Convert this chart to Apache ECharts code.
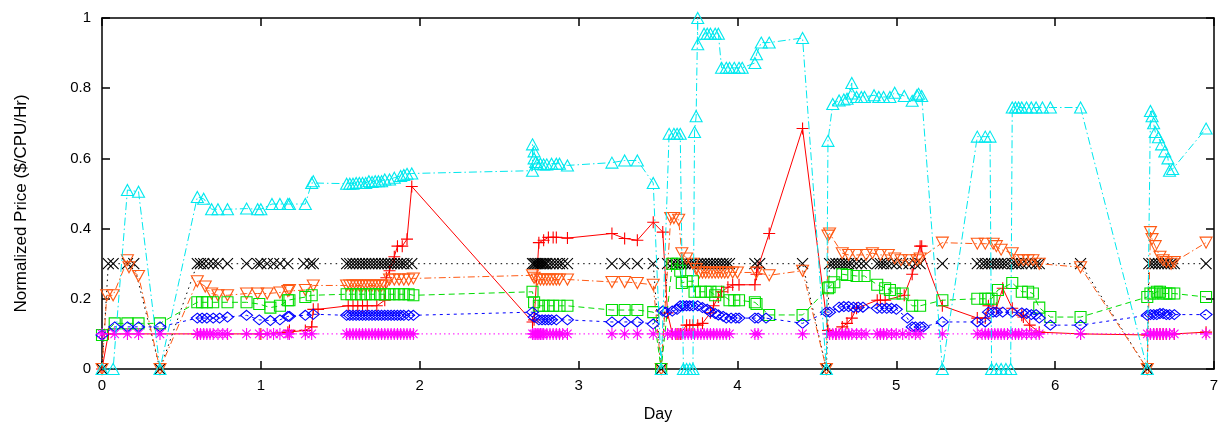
<!DOCTYPE html>
<html>
<head>
<meta charset="utf-8">
<script src="https://cdn.jsdelivr.net/npm/echarts@6/dist/echarts.min.js"></script>
<style>
html,body{margin:0;padding:0;background:#fff;}
#chart{width:1228px;height:436px;}
</style>
</head>
<body>
<div id="chart"></div>
<script>
// ---- tick labels / axis ----
const xTicks = [0, 1, 2, 3, 4, 5, 6, 7];
const yTicks = [0, 0.2, 0.4, 0.6, 0.8, 1];
const xName = 'Day';
const yName = 'Normalized Price ($/CPU/Hr)';

// ---- series data: [day, price] ----
const redPlus = [[0,0],[0.04,0.1],[0.6,0.1],[0.79,0.1],[1.0,0.1],[1.17,0.105],[1.18,0.11],[1.28,0.11],[1.32,0.12],[1.33,0.17],[1.36,0.17],[1.55,0.18],[1.58,0.18],[1.61,0.18],[1.64,0.18],[1.67,0.18],[1.73,0.18],[1.78,0.196],[1.79,0.26],[1.81,0.28],[1.84,0.32],[1.86,0.35],[1.89,0.35],[1.92,0.37],[1.95,0.52],[2.71,0.134],[2.72,0.14],[2.75,0.36],[2.78,0.367],[2.81,0.375],[2.84,0.375],[2.86,0.375],[2.93,0.373],[3.21,0.386],[3.29,0.372],[3.37,0.367],[3.47,0.418],[3.53,0.39],[3.56,0.16],[3.59,0.10],[3.62,0.10],[3.64,0.10],[3.68,0.125],[3.70,0.125],[3.72,0.125],[3.75,0.125],[3.78,0.13],[3.83,0.16],[3.85,0.18],[3.88,0.205],[3.90,0.22],[3.94,0.233],[3.97,0.24],[4.01,0.24],[4.11,0.24],[4.12,0.27],[4.13,0.29],[4.20,0.386],[4.41,0.685],[4.57,0.11],[4.58,0.10],[4.62,0.10],[4.66,0.12],[4.69,0.13],[4.72,0.145],[4.75,0.173],[4.88,0.196],[4.90,0.196],[4.93,0.196],[5.05,0.21],[5.10,0.27],[5.15,0.35],[5.16,0.35],[5.29,0.18],[5.51,0.145],[5.56,0.145],[5.58,0.18],[5.63,0.173],[5.67,0.23],[5.73,0.173],[5.79,0.153],[5.80,0.148],[5.84,0.125],[5.90,0.105],[6.16,0.1],[6.58,0.097],[6.60,0.1],[6.62,0.1],[6.64,0.1],[6.66,0.1],[6.68,0.1],[6.70,0.1],[6.72,0.1],[6.75,0.1],[6.95,0.105]];

const blackCross = [[0,0],[0.04,0.3],[0.07,0.3],[0.16,0.3],[0.2,0.3],[0.365,0],[0.6,0.3],[0.62,0.3],[0.64,0.3],[0.67,0.3],[0.7,0.3],[0.73,0.3],[0.79,0.3],[0.91,0.3],[0.98,0.3],[1.0,0.3],[1.04,0.3],[1.08,0.3],[1.12,0.3],[1.17,0.3],[1.27,0.3],[1.31,0.3],[1.33,0.3],[1.54,0.3],[1.56,0.3],[1.58,0.3],[1.60,0.3],[1.62,0.3],[1.64,0.3],[1.66,0.3],[1.68,0.3],[1.70,0.3],[1.72,0.3],[1.74,0.3],[1.76,0.3],[1.78,0.3],[1.80,0.3],[1.82,0.3],[1.84,0.3],[1.86,0.3],[1.88,0.3],[1.90,0.3],[1.92,0.3],[1.95,0.3],[2.71,0.3],[2.72,0.3],[2.73,0.3],[2.74,0.3],[2.75,0.3],[2.76,0.3],[2.77,0.3],[2.78,0.3],[2.79,0.3],[2.80,0.3],[2.82,0.3],[2.84,0.3],[2.86,0.3],[2.88,0.3],[2.90,0.3],[2.93,0.3],[3.21,0.3],[3.29,0.3],[3.37,0.3],[3.47,0.3],[3.52,0],[3.56,0.3],[3.59,0.3],[3.61,0.3],[3.63,0.3],[3.65,0.3],[3.67,0.3],[3.69,0.3],[3.71,0.3],[3.73,0.3],[3.75,0.3],[3.77,0.3],[3.79,0.3],[3.81,0.3],[3.83,0.3],[3.85,0.3],[3.87,0.3],[3.89,0.3],[3.91,0.3],[3.93,0.3],[3.95,0.3],[4.11,0.3],[4.14,0.3],[4.41,0.3],[4.56,0],[4.58,0.3],[4.60,0.3],[4.62,0.3],[4.64,0.3],[4.66,0.3],[4.68,0.3],[4.70,0.3],[4.72,0.3],[4.75,0.3],[4.78,0.3],[4.81,0.3],[4.88,0.3],[4.90,0.3],[4.92,0.3],[4.94,0.3],[4.97,0.3],[5.00,0.3],[5.04,0.3],[5.08,0.3],[5.12,0.3],[5.15,0.3],[5.29,0.3],[5.51,0.3],[5.54,0.3],[5.56,0.3],[5.58,0.3],[5.60,0.3],[5.62,0.3],[5.64,0.3],[5.66,0.3],[5.68,0.3],[5.70,0.3],[5.73,0.3],[5.75,0.3],[5.77,0.3],[5.79,0.3],[5.82,0.3],[5.85,0.3],[5.88,0.3],[5.90,0.3],[6.16,0.3],[6.58,0],[6.59,0.3],[6.61,0.3],[6.63,0.3],[6.65,0.3],[6.67,0.3],[6.69,0.3],[6.71,0.3],[6.73,0.3],[6.75,0.3],[6.95,0.3]];

const orangeTriDown = [[0,0],[0.03,0.21],[0.07,0.21],[0.16,0.31],[0.17,0.29],[0.23,0.265],[0.365,0],[0.6,0.25],[0.65,0.235],[0.69,0.215],[0.73,0.21],[0.79,0.21],[0.91,0.215],[0.98,0.215],[1.04,0.215],[1.12,0.218],[1.17,0.222],[1.18,0.225],[1.28,0.225],[1.33,0.238],[1.54,0.238],[1.56,0.238],[1.58,0.238],[1.60,0.238],[1.62,0.238],[1.64,0.238],[1.66,0.238],[1.68,0.238],[1.70,0.238],[1.72,0.238],[1.74,0.238],[1.76,0.238],[1.78,0.238],[1.81,0.255],[1.84,0.255],[1.87,0.255],[1.90,0.255],[1.93,0.255],[1.96,0.258],[2.71,0.267],[2.72,0.26],[2.74,0.255],[2.76,0.255],[2.78,0.255],[2.80,0.255],[2.82,0.255],[2.84,0.255],[2.86,0.255],[2.88,0.255],[2.93,0.255],[3.21,0.248],[3.29,0.248],[3.37,0.245],[3.47,0.24],[3.52,0],[3.58,0.43],[3.60,0.43],[3.63,0.425],[3.65,0.33],[3.68,0.315],[3.72,0.30],[3.74,0.285],[3.76,0.275],[3.78,0.275],[3.80,0.275],[3.82,0.275],[3.84,0.275],[3.86,0.275],[3.88,0.275],[3.90,0.275],[3.92,0.275],[3.94,0.275],[3.97,0.275],[4.0,0.275],[4.12,0.275],[4.2,0.267],[4.41,0.28],[4.56,0],[4.57,0.38],[4.58,0.386],[4.66,0.33],[4.70,0.325],[4.75,0.325],[4.81,0.325],[4.85,0.33],[4.90,0.325],[4.95,0.325],[4.99,0.315],[5.03,0.31],[5.08,0.31],[5.13,0.31],[5.15,0.315],[5.29,0.36],[5.51,0.357],[5.56,0.357],[5.61,0.357],[5.63,0.35],[5.66,0.34],[5.73,0.33],[5.77,0.31],[5.80,0.31],[5.83,0.31],[5.86,0.31],[5.90,0.3],[6.16,0.29],[6.58,0],[6.60,0.39],[6.61,0.37],[6.63,0.35],[6.66,0.32],[6.68,0.31],[6.70,0.305],[6.73,0.30],[6.75,0.305],[6.95,0.36]];

const greenSquare = [[0,0.097],[0.08,0.13],[0.16,0.13],[0.23,0.13],[0.365,0.13],[0.6,0.19],[0.63,0.19],[0.66,0.19],[0.70,0.19],[0.79,0.19],[0.91,0.19],[0.99,0.185],[1.06,0.175],[1.12,0.18],[1.17,0.196],[1.18,0.196],[1.28,0.205],[1.32,0.21],[1.54,0.213],[1.57,0.213],[1.60,0.213],[1.63,0.213],[1.66,0.213],[1.69,0.213],[1.72,0.213],[1.75,0.213],[1.78,0.213],[1.81,0.213],[1.84,0.213],[1.87,0.213],[1.90,0.213],[1.93,0.213],[1.96,0.21],[2.71,0.22],[2.72,0.19],[2.75,0.18],[2.78,0.18],[2.81,0.18],[2.84,0.18],[2.88,0.18],[2.93,0.18],[3.21,0.168],[3.29,0.168],[3.37,0.168],[3.47,0.162],[3.52,0],[3.59,0.30],[3.62,0.30],[3.64,0.28],[3.65,0.245],[3.68,0.25],[3.72,0.25],[3.73,0.22],[3.77,0.22],[3.80,0.22],[3.83,0.22],[3.86,0.21],[3.88,0.22],[3.95,0.196],[3.98,0.196],[4.01,0.196],[4.11,0.19],[4.12,0.185],[4.2,0.154],[4.41,0.154],[4.57,0.23],[4.58,0.233],[4.61,0.247],[4.66,0.27],[4.69,0.268],[4.75,0.265],[4.80,0.265],[4.88,0.24],[4.93,0.23],[4.96,0.225],[4.99,0.215],[5.04,0.215],[5.10,0.18],[5.15,0.18],[5.29,0.196],[5.51,0.2],[5.56,0.2],[5.58,0.2],[5.60,0.2],[5.64,0.225],[5.73,0.245],[5.79,0.22],[5.83,0.22],[5.86,0.215],[5.90,0.175],[5.97,0.148],[6.16,0.148],[6.58,0.205],[6.60,0.215],[6.62,0.215],[6.64,0.22],[6.66,0.22],[6.68,0.215],[6.70,0.215],[6.72,0.215],[6.75,0.215],[6.95,0.205]];

const blueDiamond = [[0,0.097],[0.08,0.12],[0.16,0.12],[0.23,0.12],[0.365,0.12],[0.6,0.145],[0.63,0.145],[0.66,0.145],[0.70,0.145],[0.74,0.145],[0.79,0.148],[0.91,0.153],[0.99,0.14],[1.06,0.138],[1.12,0.14],[1.17,0.15],[1.18,0.15],[1.28,0.153],[1.33,0.156],[1.54,0.153],[1.56,0.153],[1.58,0.153],[1.60,0.153],[1.62,0.153],[1.64,0.153],[1.66,0.153],[1.68,0.153],[1.70,0.153],[1.72,0.153],[1.74,0.153],[1.76,0.153],[1.78,0.153],[1.80,0.153],[1.82,0.153],[1.84,0.153],[1.86,0.153],[1.88,0.153],[1.90,0.153],[1.93,0.153],[1.96,0.153],[2.71,0.162],[2.72,0.148],[2.75,0.14],[2.77,0.14],[2.79,0.14],[2.81,0.14],[2.83,0.14],[2.86,0.14],[2.93,0.14],[3.21,0.134],[3.29,0.134],[3.37,0.134],[3.47,0.128],[3.53,0.165],[3.55,0.162],[3.59,0.165],[3.62,0.17],[3.64,0.18],[3.66,0.18],[3.68,0.18],[3.70,0.18],[3.72,0.18],[3.75,0.18],[3.78,0.175],[3.81,0.17],[3.83,0.162],[3.86,0.158],[3.88,0.154],[3.91,0.15],[3.93,0.145],[3.96,0.145],[3.99,0.145],[4.01,0.145],[4.11,0.145],[4.13,0.145],[4.18,0.145],[4.41,0.13],[4.56,0.162],[4.58,0.162],[4.64,0.176],[4.67,0.178],[4.70,0.178],[4.73,0.176],[4.76,0.176],[4.79,0.176],[4.88,0.173],[4.91,0.173],[4.94,0.173],[4.97,0.173],[5.0,0.17],[5.07,0.145],[5.10,0.12],[5.12,0.12],[5.15,0.12],[5.17,0.12],[5.29,0.134],[5.51,0.134],[5.56,0.134],[5.58,0.162],[5.61,0.162],[5.63,0.162],[5.67,0.162],[5.73,0.162],[5.79,0.16],[5.82,0.158],[5.85,0.155],[5.88,0.155],[5.90,0.145],[5.97,0.125],[6.16,0.125],[6.58,0.153],[6.60,0.155],[6.62,0.155],[6.64,0.155],[6.66,0.158],[6.68,0.158],[6.70,0.155],[6.72,0.155],[6.75,0.155],[6.95,0.155]];

const magentaStar = [[0,0.1],[0.08,0.1],[0.16,0.1],[0.23,0.1],[0.365,0.1],[0.6,0.1],[0.62,0.1],[0.64,0.1],[0.66,0.1],[0.68,0.1],[0.70,0.1],[0.73,0.1],[0.76,0.1],[0.79,0.1],[0.91,0.1],[0.99,0.1],[1.04,0.1],[1.08,0.1],[1.12,0.1],[1.17,0.1],[1.18,0.1],[1.28,0.1],[1.32,0.1],[1.54,0.1],[1.56,0.1],[1.58,0.1],[1.60,0.1],[1.62,0.1],[1.64,0.1],[1.66,0.1],[1.68,0.1],[1.70,0.1],[1.72,0.1],[1.74,0.1],[1.76,0.1],[1.78,0.1],[1.80,0.1],[1.82,0.1],[1.84,0.1],[1.86,0.1],[1.88,0.1],[1.90,0.1],[1.92,0.1],[1.94,0.1],[1.96,0.1],[2.71,0.1],[2.72,0.1],[2.73,0.1],[2.74,0.1],[2.75,0.1],[2.76,0.1],[2.77,0.1],[2.78,0.1],[2.80,0.1],[2.82,0.1],[2.84,0.1],[2.86,0.1],[2.88,0.1],[2.90,0.1],[2.93,0.1],[3.21,0.1],[3.29,0.1],[3.37,0.1],[3.47,0.1],[3.56,0.1],[3.59,0.1],[3.61,0.1],[3.63,0.1],[3.65,0.1],[3.67,0.1],[3.69,0.1],[3.71,0.1],[3.73,0.1],[3.75,0.1],[3.77,0.1],[3.79,0.1],[3.81,0.1],[3.83,0.1],[3.85,0.1],[3.87,0.1],[3.89,0.1],[3.91,0.1],[3.93,0.1],[3.95,0.1],[4.11,0.1],[4.13,0.1],[4.41,0.1],[4.58,0.1],[4.60,0.1],[4.62,0.1],[4.64,0.1],[4.66,0.1],[4.68,0.1],[4.70,0.1],[4.72,0.1],[4.75,0.1],[4.78,0.1],[4.81,0.1],[4.88,0.1],[4.90,0.1],[4.92,0.1],[4.94,0.1],[4.97,0.1],[5.00,0.1],[5.04,0.1],[5.08,0.1],[5.12,0.1],[5.15,0.1],[5.29,0.1],[5.51,0.1],[5.54,0.1],[5.56,0.1],[5.58,0.1],[5.60,0.1],[5.62,0.1],[5.64,0.1],[5.66,0.1],[5.68,0.1],[5.70,0.1],[5.73,0.1],[5.75,0.1],[5.77,0.1],[5.79,0.1],[5.82,0.1],[5.85,0.1],[5.88,0.1],[5.90,0.1],[6.16,0.1],[6.58,0.1],[6.60,0.1],[6.62,0.1],[6.64,0.1],[6.66,0.1],[6.68,0.1],[6.70,0.1],[6.72,0.1],[6.75,0.1],[6.95,0.1]];

const cyanTriUp = [[0,0],[0.07,0],[0.16,0.51],[0.23,0.505],[0.365,0],[0.6,0.49],[0.64,0.485],[0.69,0.455],[0.73,0.455],[0.79,0.455],[0.91,0.457],[0.98,0.455],[1.0,0.455],[1.07,0.47],[1.12,0.47],[1.17,0.47],[1.18,0.47],[1.28,0.47],[1.32,0.53],[1.33,0.535],[1.54,0.528],[1.56,0.528],[1.58,0.528],[1.60,0.53],[1.62,0.53],[1.64,0.53],[1.66,0.53],[1.68,0.535],[1.70,0.533],[1.72,0.535],[1.74,0.535],[1.76,0.535],[1.78,0.54],[1.81,0.54],[1.84,0.545],[1.88,0.55],[1.90,0.553],[1.92,0.556],[1.95,0.557],[2.71,0.565],[2.71,0.64],[2.72,0.62],[2.72,0.60],[2.73,0.59],[2.74,0.585],[2.76,0.585],[2.78,0.583],[2.80,0.583],[2.83,0.585],[2.86,0.585],[2.88,0.585],[2.93,0.58],[3.21,0.588],[3.29,0.594],[3.37,0.594],[3.47,0.53],[3.52,0],[3.57,0.67],[3.60,0.67],[3.62,0.67],[3.64,0.67],[3.66,0],[3.68,0],[3.70,0],[3.72,0],[3.73,0.675],[3.74,0.72],[3.75,1.0],[3.75,0.925],[3.79,0.955],[3.81,0.955],[3.83,0.955],[3.86,0.955],[3.88,0.955],[3.90,0.858],[3.93,0.858],[3.95,0.858],[3.98,0.858],[4.01,0.858],[4.03,0.858],[4.11,0.872],[4.12,0.897],[4.15,0.93],[4.20,0.93],[4.41,0.943],[4.56,0],[4.57,0.65],[4.60,0.755],[4.64,0.765],[4.67,0.768],[4.69,0.77],[4.72,0.815],[4.72,0.785],[4.75,0.775],[4.78,0.775],[4.80,0.775],[4.86,0.78],[4.89,0.775],[4.92,0.775],[4.96,0.775],[4.99,0.787],[5.05,0.778],[5.10,0.764],[5.13,0.78],[5.14,0.784],[5.16,0.778],[5.29,0],[5.51,0.662],[5.56,0.662],[5.59,0.662],[5.60,0],[5.63,0],[5.66,0],[5.69,0],[5.72,0],[5.73,0.745],[5.75,0.745],[5.77,0.745],[5.79,0.745],[5.82,0.745],[5.85,0.745],[5.88,0.745],[5.92,0.745],[5.97,0.745],[6.16,0.745],[6.58,0],[6.60,0.735],[6.61,0.72],[6.62,0.70],[6.63,0.675],[6.65,0.66],[6.67,0.64],[6.69,0.62],[6.71,0.6],[6.72,0.565],[6.74,0.57],[6.95,0.685]];

// ---- rendering ----
const FONT = '"Liberation Sans", Arial, Helvetica, sans-serif';
const SYM = {
  plus: 'path://M5,0L5,10M0,5L10,5',
  cross: 'path://M0,0L10,10M10,0L0,10',
  star: 'path://M5,0L5,10M0,5L10,5M1.5,1.5L8.5,8.5M8.5,1.5L1.5,8.5',
  triDown: 'path://M0,0L10,0L5,8.66Z',
  triUp: 'path://M5,0L10,8.66L0,8.66Z',
  diamond: 'path://M5,0L10,4L5,8L0,4Z',
  square: 'path://M0,0L10,0L10,10L0,10Z'
};
function mk(name, data, color, symbol, size, dash, z) {
  return {
    name, type: 'line', data, z,
    symbol: SYM[symbol], symbolSize: size, symbolKeepAspect: false,
    showSymbol: true, clip: false, animation: false, silent: true,
    lineStyle: { color, width: 1, type: dash },
    itemStyle: { color: 'none', borderColor: color, borderWidth: 1.1 },
    emphasis: { disabled: true }
  };
}
const axisCommon = {
  type: 'value',
  axisLine: { show: true, onZero: false, lineStyle: { color: '#000', width: 1.5 } },
  axisTick: { show: true, inside: true, length: 8, lineStyle: { color: '#000', width: 1.5 } },
  splitLine: { show: false },
  minorTick: { show: false }
};
const chart = echarts.init(document.getElementById('chart'), null, { renderer: 'canvas' });
chart.setOption({
  animation: false,
  backgroundColor: '#fff',
  textStyle: { fontFamily: FONT },
  grid: { left: 102, right: 14, top: 18, bottom: 67, containLabel: false },
  xAxis: [
    Object.assign({}, axisCommon, {
      min: xTicks[0], max: xTicks[xTicks.length - 1], interval: 1, position: 'bottom',
      name: xName, nameLocation: 'middle', nameGap: 38,
      nameTextStyle: { color: '#000', fontSize: 16, fontFamily: FONT },
      axisLabel: { color: '#000', fontSize: 15, fontFamily: FONT, margin: 9 }
    }),
    Object.assign({}, axisCommon, {
      min: xTicks[0], max: xTicks[xTicks.length - 1], interval: 1, position: 'top',
      axisLabel: { show: false }
    })
  ],
  yAxis: [
    Object.assign({}, axisCommon, {
      min: yTicks[0], max: yTicks[yTicks.length - 1], interval: 0.2, position: 'left',
      name: yName, nameLocation: 'middle', nameGap: 72, nameRotate: 90,
      nameTextStyle: { color: '#000', fontSize: 17, fontFamily: FONT, padding: [0, 20, 0, 0] },
      axisLabel: { color: '#000', fontSize: 15, fontFamily: FONT, margin: 11 }
    }),
    Object.assign({}, axisCommon, {
      min: yTicks[0], max: yTicks[yTicks.length - 1], interval: 0.2, position: 'right',
      axisLabel: { show: false }
    })
  ],
  series: [
    mk('red', redPlus, '#ff0000', 'plus', [12, 12], 'solid', 2),
    mk('black', blackCross, '#000000', 'cross', [11, 11], [1.5, 4], 3),
    mk('orange', orangeTriDown, '#ff5a14', 'triDown', [12, 11], [7, 3, 1.5, 3], 4),
    mk('green', greenSquare, '#00dd00', 'square', [11, 11], [6, 4], 5),
    mk('blue', blueDiamond, '#0000ff', 'diamond', [12, 10], [3, 4], 6),
    mk('magenta', magentaStar, '#ff00ff', 'star', [12, 12], [1.5, 3], 7),
    mk('cyan', cyanTriUp, '#00e8ee', 'triUp', [12, 11], [8, 3, 1.5, 3], 8)
  ]
});
</script>
</body>
</html>
